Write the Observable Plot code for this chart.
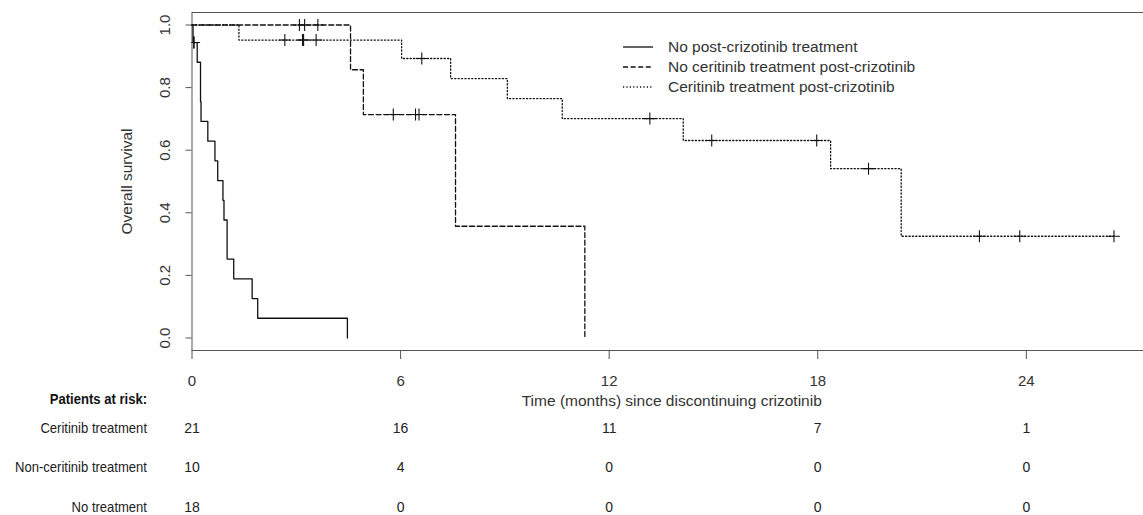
<!DOCTYPE html>
<html>
<head>
<meta charset="utf-8">
<script src="https://cdn.jsdelivr.net/npm/d3@7"></script>
<script src="https://cdn.jsdelivr.net/npm/@observablehq/plot@0.6"></script>
<style>
  body { margin: 0; background: #fff; }
  #wrap { position: relative; width: 1143px; height: 515px; overflow: hidden;
          font-family: "Liberation Sans", Arial, sans-serif; color: #333; }
  #chart svg { max-width: none !important; }
  #legend { position: absolute; left: 623.4px; top: 36.5px; font-size: 15.5px; color: #333; }
  #legend .row { display: flex; align-items: center; height: 20px; white-space: nowrap; }
  #legend svg { margin-right: 14.6px; }
</style>
</head>
<body>
<div id="wrap"><div id="chart"></div><div id="legend"></div></div>
<script>
// ---------- data ----------
const groupNames = [
  "No post-crizotinib treatment",
  "No ceritinib treatment post-crizotinib",
  "Ceritinib treatment post-crizotinib"
];
const groupDash = ["none", "5,2.6", "1.2,2.2"];

// Kaplan-Meier steps (time in months, survival)
const noTxTimes = [0, 0.03, 0.15, 0.245, 0.26, 0.455, 0.66, 0.74, 0.89, 0.92, 1.01, 1.20, 1.73, 1.89, 4.47];
const noTxSurv  = [1, 0.944, 0.881, 0.755, 0.692, 0.629, 0.566, 0.503, 0.440, 0.377, 0.252, 0.189, 0.126, 0.063, 0];
const noTxCensTimes = [0.05, 0.06];
const noTxCensSurv  = [0.944, 0.944];

const nonCerTimes = [0, 4.56, 4.93, 7.58, 11.3];
const nonCerSurv  = [1, 0.857, 0.714, 0.357, 0];
const nonCerCensTimes = [3.09, 3.24, 3.62, 5.79, 6.43, 6.53];
const nonCerCensSurv  = [1, 1, 1, 0.714, 0.714, 0.714];

const cerTimes = [0, 1.35, 6.03, 7.44, 9.07, 10.65, 14.13, 18.37, 20.4, 26.52];
const cerSurv  = [1, 0.952, 0.893, 0.829, 0.765, 0.701, 0.631, 0.541, 0.325, 0.325];
const cerCensTimes = [2.67, 3.18, 3.21, 3.57, 6.61, 13.17, 14.95, 17.97, 19.46, 22.65, 23.81, 26.52];
const cerCensSurv  = [0.952, 0.952, 0.952, 0.952, 0.893, 0.701, 0.631, 0.631, 0.541, 0.325, 0.325, 0.325];

const xTicks = [0, 6, 12, 18, 24];
const yTicks = [0, 0.2, 0.4, 0.6, 0.8, 1.0];

// patients at risk
const riskLabels = ["Ceritinib treatment", "Non-ceritinib treatment", "No treatment"];
const riskCer    = [21, 16, 11, 7, 1];
const riskNonCer = [10, 4, 0, 0, 0];
const riskNone   = [18, 0, 0, 0, 0];

// ---------- build tables ----------
const curves = [
  {t: noTxTimes, s: noTxSurv, ct: noTxCensTimes, cs: noTxCensSurv},
  {t: nonCerTimes, s: nonCerSurv, ct: nonCerCensTimes, cs: nonCerCensSurv},
  {t: cerTimes, s: cerSurv, ct: cerCensTimes, cs: cerCensSurv}
];
const riskRows = [riskCer, riskNonCer, riskNone];

const plusSym = {
  draw(ctx, size) {
    const r = Math.sqrt(size / Math.PI);
    ctx.moveTo(-r, 0); ctx.lineTo(r, 0);
    ctx.moveTo(0, -r); ctx.lineTo(0, r);
  }
};

const marks = [];
marks.push(Plot.frame({stroke: "#555", strokeWidth: 1}));
marks.push(Plot.axisX({ticks: xTicks, tickSize: 9, tickPadding: 15.5, fontSize: 15, label: null, stroke: "#555"}));
marks.push(Plot.axisY({ticks: yTicks, tickSize: 6, tickFormat: () => "", label: null, stroke: "#555"}));
marks.push(Plot.text(yTicks, {y: d => d, text: d3.format(".1f"), frameAnchor: "left", dx: -26.5,
  rotate: -90, textAnchor: "middle", lineAnchor: "middle", fontSize: 15, fill: "#333"}));
marks.push(Plot.text(["Overall survival"], {frameAnchor: "left", dx: -64.5, rotate: -90,
  textAnchor: "middle", lineAnchor: "middle", fontSize: 15.5, fill: "#333"}));
marks.push(Plot.text(["Time (months) since discontinuing crizotinib"], {frameAnchor: "bottom", dy: 51,
  lineAnchor: "middle", fontSize: 15.5, fill: "#333"}));

curves.forEach((c, i) => {
  const pts = c.t.map((t, j) => ({t, s: c.s[j]}));
  marks.push(Plot.line(pts, {x: "t", y: "s", curve: "step-after", stroke: "#111",
    strokeWidth: 1.3, strokeDasharray: groupDash[i]}));
  const cens = c.ct.map((t, j) => ({t, s: c.cs[j]}));
  marks.push(Plot.dot(cens, {x: "t", y: "s", symbol: plusSym, r: 6, stroke: "#111",
    strokeWidth: 1.1, fill: "none", clip: true}));
});

// at-risk table
const rowDy = [78.3, 117.3, 156.7];
marks.push(Plot.text(["Patients at risk:"], {frameAnchor: "bottom-left", dx: -45, dy: 49.3,
  textAnchor: "end", lineAnchor: "middle", fontSize: 14.5, fontWeight: "bold", fill: "#111",
  className: "narrow"}));
riskLabels.forEach((lab, i) => {
  marks.push(Plot.text([lab], {frameAnchor: "bottom-left", dx: -45, dy: rowDy[i],
    textAnchor: "end", lineAnchor: "middle", fontSize: 14.5, fill: "#222", className: "narrow"}));
  const cells = xTicks.map((t, j) => ({t, n: riskRows[i][j]}));
  marks.push(Plot.text(cells, {x: "t", text: "n", frameAnchor: "bottom", dy: rowDy[i],
    lineAnchor: "middle", fontSize: 14, fill: "#222"}));
});

const chart = Plot.plot({
  width: 1151, height: 515,
  marginLeft: 191.5, marginRight: 0, marginTop: 12, marginBottom: 165,
  style: {fontFamily: "'Liberation Sans', Arial, sans-serif", color: "#333", background: "#fff",
          overflow: "visible", maxWidth: "none"},
  x: {domain: [0, 27.6]},
  y: {domain: [-0.04, 1.04]},
  marks
});
document.getElementById("chart").appendChild(chart);

// slightly condensed lettering for the at-risk table labels (as in the original)
chart.querySelectorAll("g.narrow text").forEach(t => {
  const L = t.getComputedTextLength();
  t.setAttribute("textLength", (L * 0.9).toFixed(1));
  t.setAttribute("lengthAdjust", "spacingAndGlyphs");
});

// legend (HTML overlay inside plot area)
const legend = document.getElementById("legend");
groupNames.forEach((name, i) => {
  const row = document.createElement("div");
  row.className = "row";
  row.innerHTML = `<svg width="30" height="4"><line x1="0" y1="2" x2="30" y2="2" stroke="#111" stroke-width="1.3" ${groupDash[i] === "none" ? "" : `stroke-dasharray="${groupDash[i]}"`}/></svg><span>${name}</span>`;
  legend.appendChild(row);
});
</script>
</body>
</html>
